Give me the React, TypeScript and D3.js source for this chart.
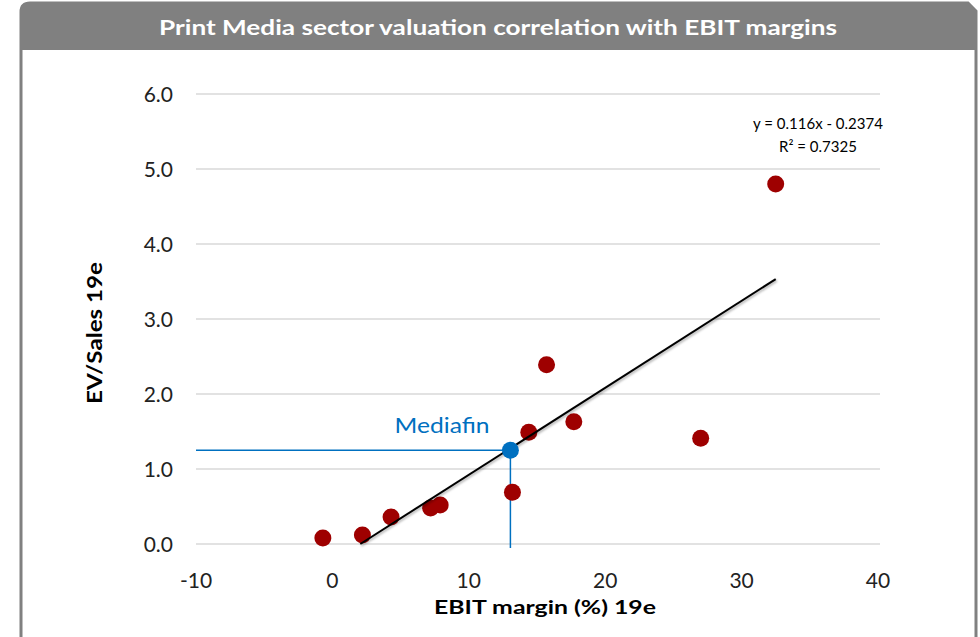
import React from "react";
import * as d3 from "d3";

const ebitMargins = [-0.7, 2.2, 4.3, 7.2, 7.9, 13.2, 14.4, 15.7, 17.7, 27.0, 32.5];
const evSales = [0.08, 0.12, 0.36, 0.48, 0.52, 0.69, 1.49, 2.39, 1.63, 1.41, 4.8];
const mediafin = { x: 13.05, y: 1.25, label: "Mediafin" };
const xTicks = [-10, 0, 10, 20, 30, 40];
const yTicks = [0, 1, 2, 3, 4, 5, 6];
const slope = 0.116;
const intercept = -0.2374;
const eqLines = ["y = 0.116x - 0.2374", "R² = 0.7325"];
const title = "Print Media sector valuation correlation with EBIT margins";
const xTitle = "EBIT margin (%) 19e";
const yTitle = "EV/Sales 19e";

export default function App() {
  const x = d3.scaleLinear().domain([-10, 40]).range([196, 878]);
  const y = d3.scaleLinear().domain([0, 6]).range([544, 94]);
  const font = "Lato, 'Open Sans', sans-serif";

  const xMin = Math.max(d3.min(ebitMargins)!, -intercept / slope);
  const xMax = d3.max(ebitMargins)!;
  const trend = d3.line<number>().x((d) => x(d)).y((d) => y(slope * d + intercept));
  const trendPath = trend([xMin, xMax]) || "";

  const framePath = "M21,637 L21,12 Q21,3 30,3 L968,3 L976,11 L976,637";

  return (
    <svg width={980} height={637} style={{ position: "absolute", left: 0, top: 0, background: "#fff" }}>
      <defs>
        <filter id="sh" x="-5%" y="-5%" width="110%" height="110%">
          <feDropShadow dx="1" dy="1.5" stdDeviation="0.8" floodColor="#000" floodOpacity="0.35" />
        </filter>
      </defs>
      <path d={framePath} fill="#fff" stroke="#808080" strokeWidth={3} />
      <path d="M21,50 L21,12 Q21,3 30,3 L968,3 L976,11 L976,50 Z" fill="#808080" />
      <text x={498} y={35} textAnchor="middle" fill="#fff" fontFamily={font} fontWeight="bold" fontSize={21}
        textLength={678} lengthAdjust="spacingAndGlyphs">{title}</text>

      {yTicks.map((t) => (
        <g key={t}>
          <line x1={196} x2={880} y1={y(t)} y2={y(t)} stroke="#d9d9d9" strokeWidth={1.5} />
          <text x={173} y={y(t)} dy="0.36em" textAnchor="end" fontFamily={font} fontSize={21} fill="#222">
            {d3.format(".1f")(t)}
          </text>
        </g>
      ))}
      {xTicks.map((t) => (
        <text key={t} x={x(t)} y={588} textAnchor="middle" fontFamily={font} fontSize={21} fill="#222">
          {t}
        </text>
      ))}
      <text x={545} y={614} textAnchor="middle" fontFamily={font} fontWeight="bold" fontSize={19} fill="#000"
        textLength={222} lengthAdjust="spacingAndGlyphs">{xTitle}</text>
      <text transform={`translate(102,333) rotate(-90)`} textAnchor="middle" fontFamily={font} fontWeight="bold"
        fontSize={20} fill="#000" textLength={142} lengthAdjust="spacingAndGlyphs">{yTitle}</text>

      <line x1={196} x2={x(mediafin.x)} y1={y(mediafin.y)} y2={y(mediafin.y)} stroke="#0070C0" strokeWidth={1.5} />
      <line x1={x(mediafin.x)} x2={x(mediafin.x)} y1={y(mediafin.y)} y2={548} stroke="#0070C0" strokeWidth={1.5} />

      {ebitMargins.map((m, i) => (
        <circle key={i} cx={x(m)} cy={y(evSales[i])} r={8.5} fill="#9E0000" />
      ))}
      <path d={trendPath} stroke="#000" strokeWidth={2} fill="none" filter="url(#sh)" />
      <circle cx={x(mediafin.x)} cy={y(mediafin.y)} r={8.5} fill="#0070C0" />
      <text x={442} y={433} textAnchor="middle" fontFamily={font} fontSize={22} fill="#0070C0"
        textLength={95} lengthAdjust="spacingAndGlyphs">{mediafin.label}</text>

      {eqLines.map((l, i) => (
        <text key={i} x={818} y={129 + i * 23} textAnchor="middle" fontFamily={font} fontSize={15} fill="#000">{l}</text>
      ))}
    </svg>
  );
}
